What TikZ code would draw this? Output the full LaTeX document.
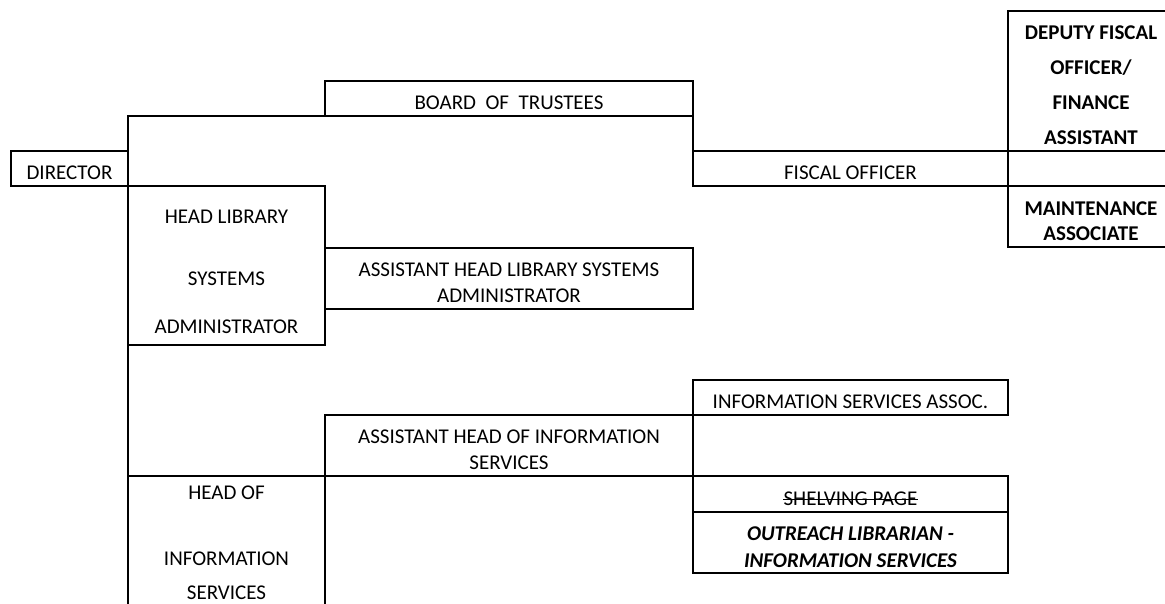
\documentclass[tikz,border=0pt]{standalone}
\usepackage{fontspec}
\setmainfont{Carlito}
\usetikzlibrary{positioning}

\begin{document}
\begin{tikzpicture}[x=1pt,y=-1pt,
  cell/.style={draw,line width=2.3pt,inner sep=0pt,outer sep=0pt,anchor=north west},
  txt/.style={inner sep=0pt,align=center,yshift=-4.5pt,font=\fontsize{21}{25.5}\selectfont},
  boldtxt/.style={txt,font=\fontsize{21}{25.5}\selectfont\bfseries}]
  \useasboundingbox (0,0) rectangle (1165,603);
  \clip (0,0) rectangle (1165,603);

  % boxes
  \node[cell,minimum width=117,minimum height=35] (dir) at (11,151) {};
  \node[cell,minimum width=368,minimum height=35] (board) at (325,81) {};
  \node[cell,minimum width=315,minimum height=35] (fisc) at (693,151) {};
  \node[cell,minimum width=166,minimum height=140] (deputy) at (1008,11) {};
  \node[cell,minimum width=166,minimum height=61] (maint) at (1008,186) {};
  \node[cell,minimum width=197,minimum height=159] (hlsa) at (128,186) {};
  \node[cell,minimum width=368,minimum height=61] (ahlsa) at (325,248) {};
  \node[cell,minimum width=315,minimum height=35] (isassoc) at (693,380) {};
  \node[cell,minimum width=368,minimum height=61] (ahis) at (325,415) {};
  \node[cell,minimum width=197,minimum height=150] (his) at (128,476) {};
  \node[cell,minimum width=315,minimum height=36] (shelf) at (693,476) {};
  \node[cell,minimum width=315,minimum height=61] (outreach) at (693,512) {};

  % connecting lines
  \draw[line width=2.3pt] (dir.north east) |- (board.south west);
  \draw[line width=2.3pt] (board.south east) -- (fisc.north west);
  \draw[line width=2.3pt] (hlsa.south west) -- (his.north west);

  % texts
  \node[txt] (dirtxt) at (dir.center) {DIRECTOR};
  \node[txt] (boardtxt) at (board.center) {BOARD\ \ OF\ \ TRUSTEES};
  \node[txt] (fisctxt) at (fisc.center) {FISCAL OFFICER};
  \node[boldtxt] (deputytxt) at (deputy.center)
    {DEPUTY FISCAL\\[9.5pt] OFFICER/\\[9.5pt] FINANCE\\[9.5pt] ASSISTANT};
  \node[boldtxt] (mainttxt) at (maint.center) {MAINTENANCE\\ ASSOCIATE};
  \node[txt,yshift=-2pt] (hlsatxt) at (hlsa.center)
    {HEAD LIBRARY\\[36.5pt] SYSTEMS\\[22.5pt] ADMINISTRATOR};
  \node[txt] (ahlsatxt) at (ahlsa.center) {ASSISTANT HEAD LIBRARY SYSTEMS\\ ADMINISTRATOR};
  \node[txt] (isassoctxt) at (isassoc.center) {INFORMATION SERVICES ASSOC.};
  \node[txt] (ahistxt) at (ahis.center) {ASSISTANT HEAD OF INFORMATION\\ SERVICES};
  \node[txt] (histxt) at ([yshift=-62pt]his.north)
    {HEAD OF\\[40.5pt] INFORMATION\\[8.5pt] SERVICES};
  \node[txt] (shelftxt) at (shelf.center) {SHELVING PAGE};
  \draw[line width=1.4pt] ([yshift=-1pt]shelftxt.west) -- ([yshift=-1pt]shelftxt.east);
  \node[boldtxt,font=\fontsize{21}{25.5}\selectfont\bfseries\itshape] (outreachtxt) at (outreach.center)
    {OUTREACH LIBRARIAN -\\[1.5pt] INFORMATION SERVICES};
\end{tikzpicture}
\end{document}
